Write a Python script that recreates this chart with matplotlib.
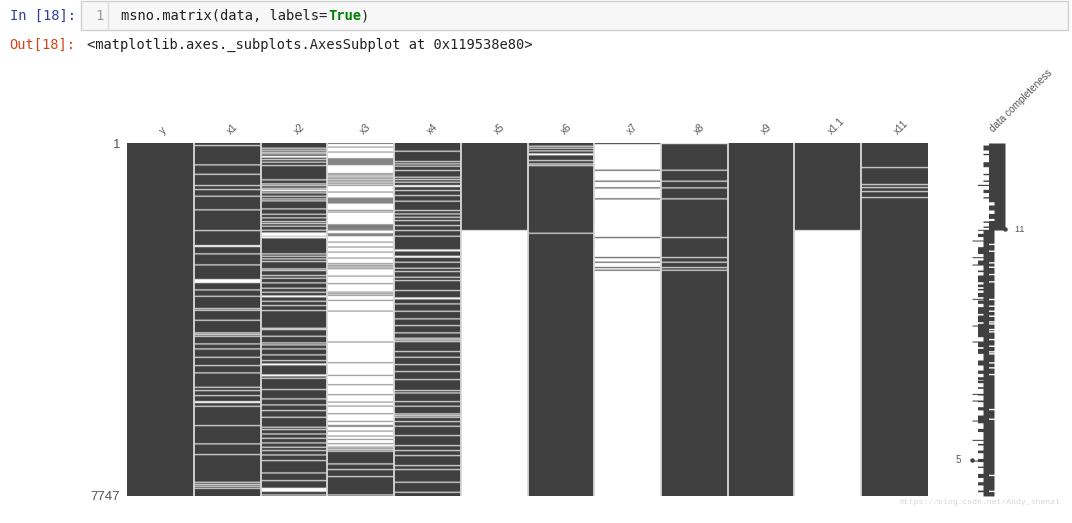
import matplotlib
matplotlib.use("Agg")
import matplotlib.pyplot as plt
import matplotlib.transforms as mtrans
import numpy as np
from matplotlib.patches import Rectangle

N_ROWS = 7747
GAP = 22  # rows per listed gap, about one pixel at this size

columns = ["y", "x1", "x2", "x3", "x4", "x5", "x6", "x7", "x8", "x9", "x1.1", "x11"]

# rows where the value is missing
x1_missing = [44, 468, 674, 922, 1010, 1156, 1455, 1910, 2239, 2260, 2421, 2663, 2985, 3007, 3029, 3051,
              3212, 3352, 3622, 3660, 3878, 4155, 4190, 4230, 4397, 4507, 4691, 4873, 5033, 5349, 5422,
              5532, 5663, 5685, 5766, 6190, 6591, 6826, 7434, 7480, 7520, 7566]
x2_missing = [102, 146, 190, 226, 278, 300, 351, 409, 483, 797, 885, 922, 980, 1017, 1039, 1083, 1156, 1214,
              1258, 1434, 1551, 1631, 1712, 1756, 1814, 1902, 1961, 1983, 1997, 2019, 2048, 2070, 2422,
              2473, 2531, 2590, 2751, 2787, 2897, 2956, 3058, 3175, 3263, 3343, 3365, 3461, 3556, 3665,
              4053, 4082, 4229, 4375, 4419, 4507, 4638, 4763, 4836, 4858, 5077, 5099, 5151, 5399, 5604,
              5736, 5860, 6007, 6226, 6277, 6373, 6468, 6570, 6665, 6738, 6834, 6958, 7229, 7397,
              7565, 7587, 7609, 7631, 7712]
x4_missing = [168, 395, 446, 497, 592, 739, 790, 848, 922, 944, 1031, 1141, 1265, 1470, 1544, 1617, 1690,
              1800, 1909, 2034, 2334, 2356, 2473, 2495, 2604, 2736, 2809, 2934, 3007, 3226, 3387, 3409,
              3519, 3680, 3848, 3995, 4155, 4273, 4309, 4346, 4565, 4690, 4851, 5004, 5180, 5421, 5473,
              5663, 5765, 5933, 5970, 6007, 6102, 6204, 6409, 6629, 6738, 6848, 7068, 7155, 7433, 7653]
x6_missing = [58, 102, 161, 226, 248, 373, 446, 483, 1968]
x8_missing = [0, 585, 826, 973, 1214, 2063, 2502, 2604, 2722, 2780]
x11_missing = [527, 900, 966, 1054, 1185]

# x5 and x1.1 stop here
x5_last_row = 1910
x11_last_row = 1910

# x3 and x7 are mostly empty, so list the rows that do have a value
x3_present = [0, 80, 190, 336, 358, 380, 402, 424, 446, 468, 665, 695, 739, 775, 812, 848, 885, 922, 1068,
              1200, 1222, 1244, 1266, 1288, 1310, 1470, 1507, 1785, 1807, 1829, 1836, 1858, 1880, 1902, 1983,
              2005, 2027, 2166, 2275, 2385, 2517, 2641, 2678, 2714, 2751, 2912, 3080, 3263, 3300, 3336,
              3446, 3680, 4360, 4814, 5092, 5297, 5516, 5677, 5765, 5933, 6102, 6190, 6212, 6314, 6424,
              6497, 6592, 6665, 6700, 6738]
x3_solid_from = 6775
x3_solid_gaps = [7031, 7155, 7309, 7712]
x7_present = [0, 585, 826, 973, 1214, 2063, 2502, 2604, 2722, 2780]

# sparkline: base range per section, then runs of rows that reach further
spark_break = 1910
spark_top_left, spark_top_right = 8, 11
spark_low_left, spark_low_right = 7, 9
top7_start = [44, 227, 410, 666, 812, 1017, 1178, 1712, 1822]
top7_len = [110, 30, 110, 30, 30, 70, 30, 30, 30]
top9_start = [1290, 1470, 1655]
top9_len = [70, 75, 45]
top6_start = [907, 1895]
top6_len = [25, 22]
low6_start = [1983, 2275, 2568, 2788, 2897, 3095, 3190, 3278, 3446, 3592, 3775, 3958, 4361, 4507, 4763, 4983,
              5129, 5202, 5348, 5495, 5641, 5787, 5970, 6263, 6592, 6739, 6922, 7090, 7251, 7434, 7617]
low6_len = [70, 150, 110, 36, 147, 58, 36, 95, 73, 147, 147, 293, 109, 110, 110, 73,
            59, 58, 36, 36, 36, 70, 170, 70, 36, 58, 70, 30, 90, 70, 36]
low5_rows = [2129, 2495, 2656, 3409, 3995, 4346, 5495, 5641, 6080, 6504, 6958]
low8_rows = [2200, 2350, 2605, 2700, 2861, 3022, 3409, 3556, 3666, 3775, 3900, 3944, 4068, 4119, 4288, 4434, 4558,
             4602, 4800, 4909, 5056, 5824, 6036, 7270, 7620]
spark_min_row, spark_min_val = 6958, 5
spark_max_row, spark_max_val = 1895, 11

W, H = 1072, 523
DARK = (0.25, 0.25, 0.25)


def px_axes(fig, left, top, right, bottom):
    return fig.add_axes([left / W, 1 - bottom / H, (right - left) / W, (bottom - top) / H])


def build_column(name):
    col = np.ones(N_ROWS, dtype=bool)
    if name == "x1":
        rows = x1_missing
    elif name == "x2":
        rows = x2_missing
    elif name == "x4":
        rows = x4_missing
    elif name == "x6":
        rows = x6_missing
    elif name == "x8":
        rows = x8_missing
    elif name == "x11":
        rows = x11_missing
    else:
        rows = []
    for r in rows:
        col[r:r + GAP] = False
    if name == "x5":
        col[x5_last_row:] = False
    if name == "x1.1":
        col[x11_last_row:] = False
    if name == "x3":
        col[:] = False
        for r in x3_present:
            col[r:r + GAP - 8] = True
        col[x3_solid_from:] = True
        for r in x3_solid_gaps:
            col[r:r + GAP] = False
    if name == "x7":
        col[:] = False
        for r in x7_present:
            col[r:r + GAP] = True
    return col


fig = plt.figure(figsize=(W / 100, H / 100), dpi=100)
fig.patch.set_facecolor("white")

# notebook chrome, in pixel coordinates
bg = fig.add_axes([0, 0, 1, 1])
bg.set_xlim(0, W)
bg.set_ylim(H, 0)
bg.axis("off")
bg.add_patch(Rectangle((81, 1), 987, 29, facecolor="#f7f7f7", edgecolor="#cfcfcf", lw=1))
bg.plot([108, 108], [1, 30], color="#dddddd", lw=1)
mono = "DejaVu Sans Mono"
bg.text(10, 16, "In [18]:", family=mono, fontsize=9.9, color="#303f9f", va="center")
bg.text(99, 16, "1", family=mono, fontsize=9.9, color="#999999", va="center", ha="center")
bg.text(121, 16, "msno.matrix(data, labels=", family=mono, fontsize=9.9, color="#222222", va="center")
bg.text(328, 16, "True", family=mono, fontsize=9.9, color="#008000", weight="bold", va="center")
bg.text(361, 16, ")", family=mono, fontsize=9.9, color="#222222", va="center")
bg.text(9, 45, "Out[18]:", family=mono, fontsize=9.9, color="#d84315", va="center")
bg.text(87, 45, "<matplotlib.axes._subplots.AxesSubplot at 0x119538e80>", family=mono, fontsize=9.9,
        color="#222222", va="center")
bg.text(899, 502, "https://blog.csdn.net/Andy_shenzl", family="Liberation Mono", fontsize=5.9,
        color="#d6d6d6", va="center")

# matrix
ax = px_axes(fig, 127, 143, 928, 496)
ax.patch.set_alpha(0)
for i, name in enumerate(columns):
    col = build_column(name)
    img = np.ones((N_ROWS, 1, 3))
    img[col, 0, :] = DARK
    ax.imshow(img, aspect="auto", extent=(i - 0.5, i + 0.5, N_ROWS, 0), interpolation="gaussian", filterrad=1.6)
ax.set_xlim(-0.5, len(columns) - 0.5)
ax.set_ylim(N_ROWS, 0)
for i in range(1, len(columns)):
    ax.axvline(i - 0.5, color="#d8d8d8", lw=1.3)
ax.xaxis.tick_top()
ax.set_xticks(range(len(columns)))
ax.set_xticklabels(columns, rotation=45, ha="left", rotation_mode="anchor", fontsize=7.2,
                   family="Liberation Sans", color="#555555")
ax.set_yticks([0, N_ROWS])
ax.set_yticklabels(["1", str(N_ROWS)], fontsize=9.6, family="Liberation Sans", color="#555555")
ax.tick_params(length=0, axis="both")
ax.tick_params(axis="x", pad=5)
ax.tick_params(axis="y", pad=5)
# the column labels sit a little right of the column centre
shift = mtrans.ScaledTranslation(5 / 100, 0, fig.dpi_scale_trans)
for label in ax.get_xticklabels():
    label.set_transform(label.get_transform() + shift)
for s in ax.spines.values():
    s.set_visible(False)

# data completeness sparkline
spark = px_axes(fig, 972, 143, 1005, 496)
spark.patch.set_alpha(0)
rows = np.arange(N_ROWS)
left = np.full(N_ROWS, spark_low_left, dtype=float)
right = np.full(N_ROWS, spark_low_right, dtype=float)
left[:spark_break] = spark_top_left
right[:spark_break] = spark_top_right
for r, n in zip(top7_start, top7_len):
    left[r:r + n] = 7
for r, n in zip(top9_start, top9_len):
    left[r:r + n] = 9
for r, n in zip(top6_start, top6_len):
    left[r:r + n] = 6
for r, n in zip(low6_start, low6_len):
    left[r:r + n] = 6
for r in low5_rows:
    left[r:r + GAP] = 5
for r in low8_rows:
    right[r:r + 30] = 8
spark.fill_betweenx(rows, left, right, color=DARK, lw=0, step="post")
spark.plot([spark_min_val], [spark_min_row], "o", color=DARK, ms=2.2, clip_on=False)
spark.plot([spark_max_val], [spark_max_row], "o", color=DARK, ms=2.2, clip_on=False)
spark.text(spark_max_val, spark_max_row, "    11", fontsize=6.5, family="Liberation Sans", color="#555555",
           va="center", ha="left")
spark.text(spark_min_val, spark_min_row, "5    ", fontsize=7, family="Liberation Sans", color="#555555",
           va="center", ha="right")
spark.set_xlim(5, 11)
spark.set_ylim(N_ROWS, 0)
spark.axis("off")
spark.text(9.1, -190, "data completeness", rotation=45, ha="left", va="bottom", rotation_mode="anchor",
           fontsize=7.2, family="Liberation Sans", color="#555555")

fig.savefig("out.png", dpi=100)
